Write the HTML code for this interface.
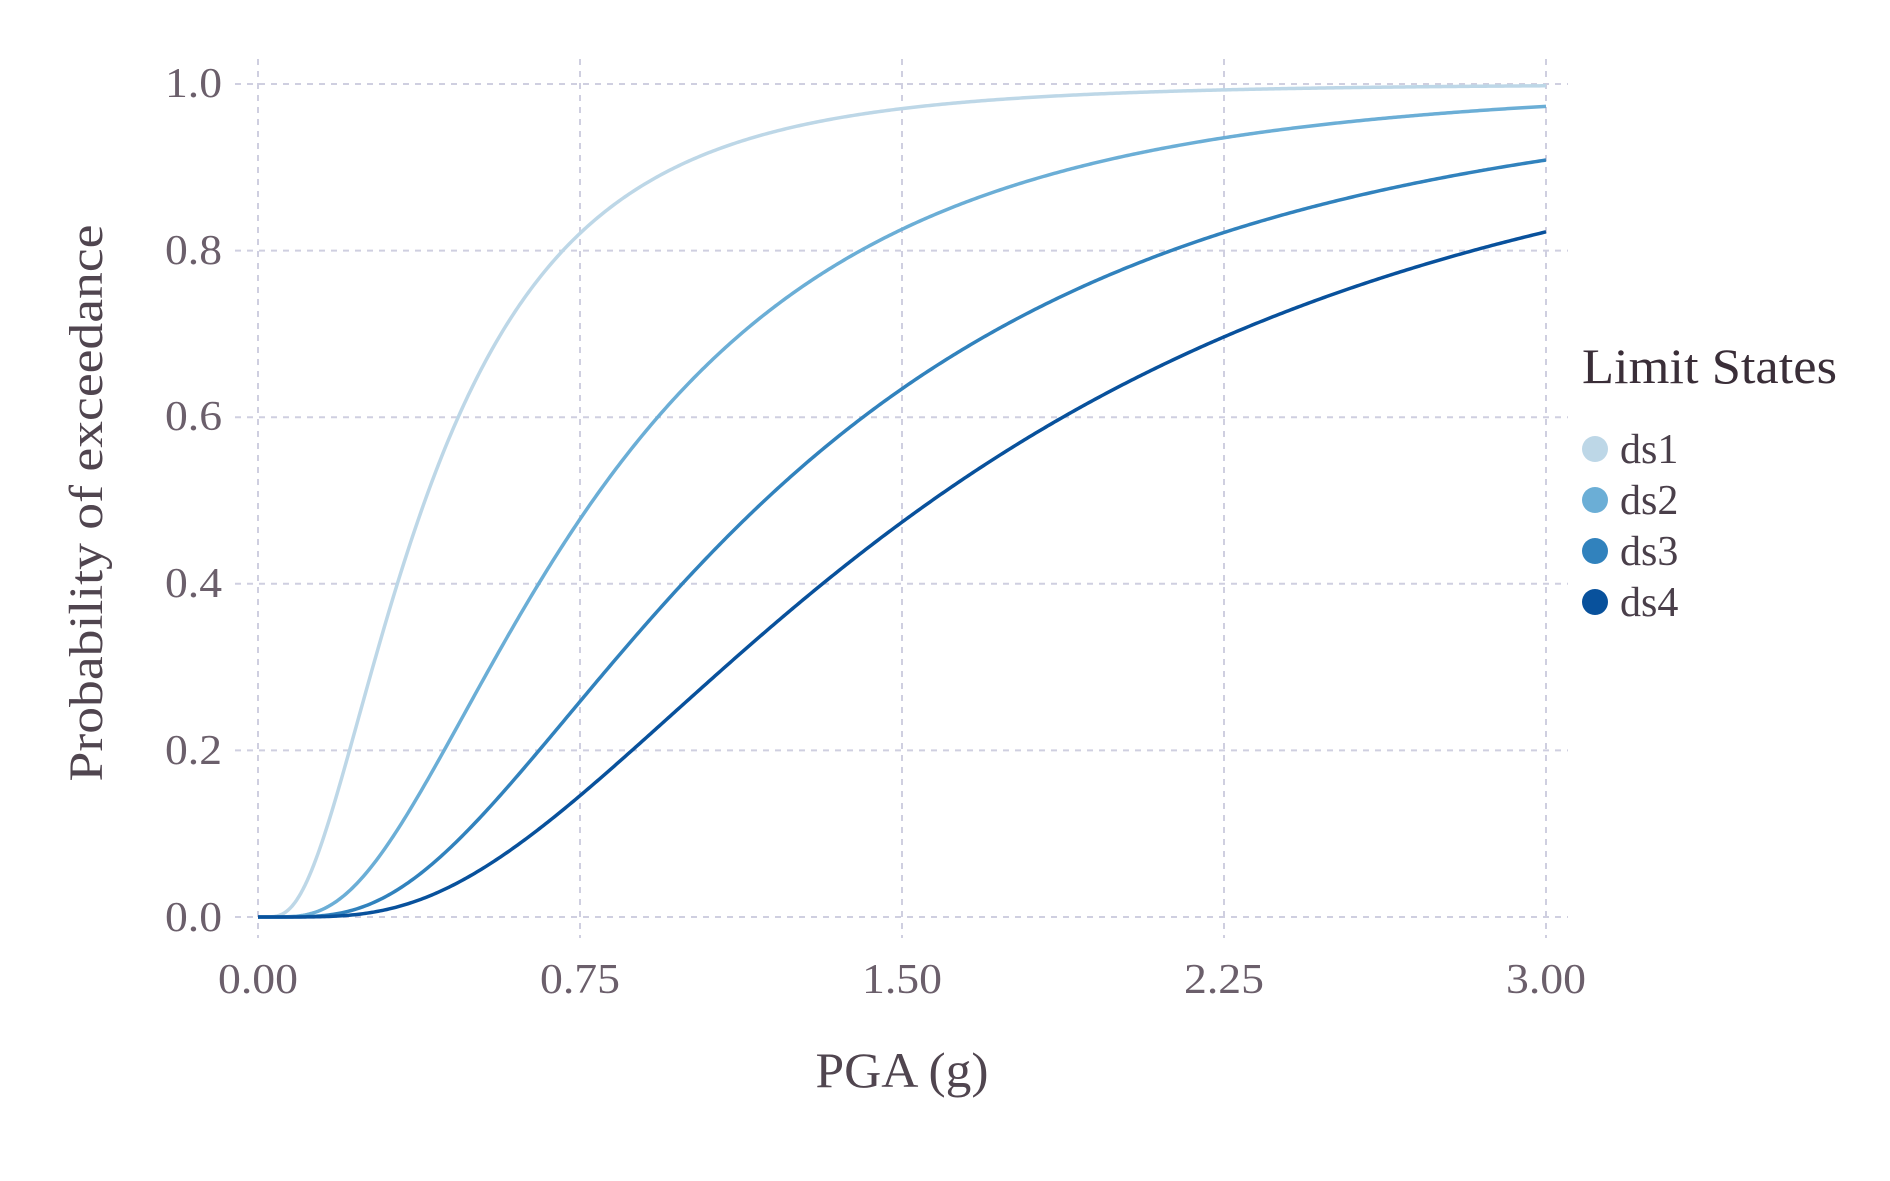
<!DOCTYPE html>
<html><head><meta charset="utf-8"><style>
html,body{margin:0;padding:0;background:#fff;}
svg{display:block;font-family:"Liberation Serif",serif;}
</style></head><body>
<svg id="c" width="1890" height="1181" viewBox="0 0 1890 1181" xmlns="http://www.w3.org/2000/svg">
<g stroke="#cfcfe0" stroke-width="2" stroke-dasharray="6,6" fill="none">
<line x1="258" y1="59" x2="258" y2="938"/>
<line x1="580" y1="59" x2="580" y2="938"/>
<line x1="902" y1="59" x2="902" y2="938"/>
<line x1="1224" y1="59" x2="1224" y2="938"/>
<line x1="1546" y1="59" x2="1546" y2="938"/>
<line x1="235" y1="84" x2="1568" y2="84"/>
<line x1="235" y1="250.6" x2="1568" y2="250.6"/>
<line x1="235" y1="417.2" x2="1568" y2="417.2"/>
<line x1="235" y1="583.8" x2="1568" y2="583.8"/>
<line x1="235" y1="750.4" x2="1568" y2="750.4"/>
<line x1="235" y1="917" x2="1568" y2="917"/>
</g>
<g fill="#6b5f6b" font-size="42" text-anchor="end">
<text x="222" y="97" textLength="57" lengthAdjust="spacingAndGlyphs">1.0</text>
<text x="222" y="264" textLength="57" lengthAdjust="spacingAndGlyphs">0.8</text>
<text x="222" y="430" textLength="57" lengthAdjust="spacingAndGlyphs">0.6</text>
<text x="222" y="597" textLength="57" lengthAdjust="spacingAndGlyphs">0.4</text>
<text x="222" y="764" textLength="57" lengthAdjust="spacingAndGlyphs">0.2</text>
<text x="222" y="931" textLength="57" lengthAdjust="spacingAndGlyphs">0.0</text>
</g>
<g fill="#6b5f6b" font-size="42" text-anchor="middle">
<text x="258" y="993" textLength="80" lengthAdjust="spacingAndGlyphs">0.00</text>
<text x="580" y="993" textLength="80" lengthAdjust="spacingAndGlyphs">0.75</text>
<text x="902" y="993" textLength="80" lengthAdjust="spacingAndGlyphs">1.50</text>
<text x="1224" y="993" textLength="80" lengthAdjust="spacingAndGlyphs">2.25</text>
<text x="1546" y="993" textLength="80" lengthAdjust="spacingAndGlyphs">3.00</text>
</g>
<text x="902" y="1087" font-size="50" fill="#50454f" text-anchor="middle" textLength="173" lengthAdjust="spacingAndGlyphs">PGA (g)</text>
<text transform="translate(102,503) rotate(-90)" font-size="48" fill="#50454f" text-anchor="middle" textLength="557" lengthAdjust="spacingAndGlyphs">Probability of exceedance</text>
<g id="curves" fill="none" stroke-width="3.5" stroke-linejoin="round"></g>
<text x="1582" y="383" font-size="50" fill="#3a2e38" textLength="255" lengthAdjust="spacingAndGlyphs">Limit States</text>
<circle cx="1595" cy="449" r="13" fill="#bdd7e7"/>
<circle cx="1595" cy="500" r="13" fill="#6baed6"/>
<circle cx="1595" cy="551" r="13" fill="#3182bd"/>
<circle cx="1595" cy="602" r="13" fill="#08519c"/>
<g font-size="42" fill="#4a3f4a">
<text x="1620" y="463">ds1</text>
<text x="1620" y="514">ds2</text>
<text x="1620" y="565">ds3</text>
<text x="1620" y="616">ds4</text>
</g>
</svg>
<script>
function erf(x){var s=x<0?-1:1;x=Math.abs(x);var t=1/(1+0.3275911*x);
var y=1-(((((1.061405429*t-1.453152027)*t)+1.421413741)*t-0.284496736)*t+0.254829592)*t*Math.exp(-x*x);return s*y;}
function Phi(z){return 0.5*(1+erf(z/Math.SQRT2));}
var series=[[0.389,0.715,"#bdd7e7"],[0.78,0.698,"#6baed6"],[1.18,0.70,"#3182bd"],[1.57,0.70,"#08519c"]];
var g=document.getElementById("curves");
series.forEach(function(s){var d="";for(var i=0;i<=600;i++){var x=3*i/600;var p=x<=0?0:Phi(Math.log(x/s[0])/s[1]);
var px=258+x*429.333,py=917-p*833;d+=(i?"L":"M")+px.toFixed(2)+","+py.toFixed(2);}
var e=document.createElementNS("http://www.w3.org/2000/svg","path");e.setAttribute("d",d);e.setAttribute("stroke",s[2]);g.appendChild(e);});
</script>
</body></html>
